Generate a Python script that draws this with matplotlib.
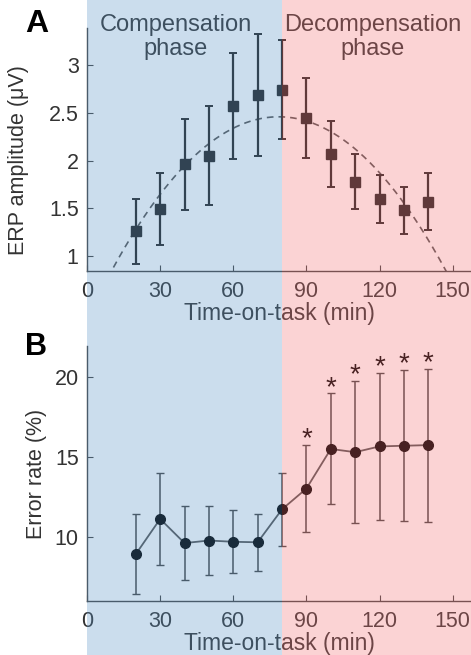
import numpy as np
import matplotlib
matplotlib.use('Agg')
import matplotlib.pyplot as plt

plt.rcParams['font.family'] = ['Liberation Sans', 'DejaVu Sans']

# Time-on-task blocks (min)
time_min = [20, 30, 40, 50, 60, 70, 80, 90, 100, 110, 120, 130, 140]

# Panel A: ERP amplitude (uV) and error bars
erp_amp = [1.26, 1.49, 1.96, 2.05, 2.57, 2.69, 2.745, 2.45, 2.07, 1.78, 1.60, 1.48, 1.57]
erp_err = [0.34, 0.375, 0.48, 0.52, 0.555, 0.64, 0.52, 0.42, 0.35, 0.29, 0.25, 0.245, 0.30]

# Panel B: error rate (%) and error bars
err_rate = [8.96, 11.15, 9.65, 9.81, 9.73, 9.70, 11.75, 13.04, 15.5, 15.3, 15.66, 15.70, 15.74]
err_rate_sd = [2.48, 2.86, 2.3, 2.15, 1.97, 1.77, 2.27, 2.7, 3.45, 4.43, 4.55, 4.7, 4.75]
signif = [False, False, False, False, False, False, False, True, True, True, True, True, True]

phase_split = 80
xticks = [0, 30, 60, 90, 120, 150]
xmax = 157.5

fig = plt.figure(figsize=(4.71, 6.55), dpi=100)

left = 87 / 471
axA = fig.add_axes([left, 1 - 271 / 655, 1 - left, (271 - 28) / 655])
axB = fig.add_axes([left, 1 - 601 / 655, 1 - left, (601 - 346) / 655])

ink = '#222222'
for ax in (axA, axB):
    ax.set_xlim(0, xmax)
    ax.set_xticks(xticks)
    ax.spines['top'].set_visible(False)
    ax.spines['right'].set_visible(False)
    for s in ('left', 'bottom'):
        ax.spines[s].set_color('#444444')
        ax.spines[s].set_linewidth(1.0)
    ax.tick_params(direction='in', length=4, width=0.8, colors='#444444',
                   labelcolor='#333333', labelsize=15.5)
    ax.tick_params(axis='x', pad=7)
    ax.tick_params(axis='y', pad=6)
    ax.patch.set_alpha(0)
    ax.set_xlabel('Time-on-task (min)', fontsize=16.5, color='#333333', labelpad=0)

# Panel A
axA.errorbar(time_min, erp_amp, yerr=erp_err, fmt='s', color=ink, ms=6.5,
             elinewidth=1.6, capsize=3, capthick=1.4, zorder=3)
coef = np.polyfit(time_min, erp_amp, 2)
xs = np.linspace(0, xmax, 300)
axA.plot(xs, np.polyval(coef, xs), '--', color='#555555', lw=1.2, dashes=(4, 3), zorder=2)
axA.set_ylim(0.843, 3.39)
axA.set_yticks([1, 1.5, 2, 2.5, 3])
axA.set_yticklabels(['1', '1.5', '2', '2.5', '3'])
axA.set_ylabel('ERP amplitude (μV)', fontsize=15.5, color='#333333')
axA.yaxis.set_label_coords((29 - 87) / 384, 0.457)

fig.text(left + 36.3 / xmax * (1 - left), 1 - 14 / 655, 'Compensation\nphase',
         ha='center', va='top', fontsize=17, color='#333333', linespacing=1.12)
fig.text(left + 117 / xmax * (1 - left), 1 - 14 / 655, 'Decompensation\nphase',
         ha='center', va='top', fontsize=17, color='#333333', linespacing=1.12)

# Panel B
axB.plot(time_min, err_rate, '-', color='#555555', lw=1.3, zorder=2)
axB.errorbar(time_min, err_rate, yerr=err_rate_sd, fmt='none', ecolor='#444444',
             elinewidth=1.1, capsize=3, capthick=1.0, zorder=2)
axB.plot(time_min, err_rate, 'o', color='black', ms=7, zorder=3)
for t, v, e, s in zip(time_min, err_rate, err_rate_sd, signif):
    if s:
        axB.text(t, v + e - 0.08, '*', ha='center', va='baseline', fontsize=20,
                 color='black')
axB.set_ylim(6.05, 21.9)
axB.set_yticks([10, 15, 20])
axB.set_ylabel('Error rate (%)', fontsize=15.5, color='#333333')
axB.yaxis.set_label_coords((47 - 87) / 384, 0.5)

fig.text(25 / 471, 1 - 32 / 655, 'A', fontsize=23, fontweight='bold', color='black')
fig.text(25 / 471, 1 - 355 / 655, 'B', fontsize=22, fontweight='bold', color='black')

# translucent phase shading drawn over everything, as in the original
ov = fig.add_axes([0, 0, 1, 1], zorder=10)
ov.set_axis_off()
ov.patch.set_alpha(0)
ov.set_xlim(-left / (1 - left) * xmax, xmax)
ov.set_ylim(0, 1)
ov.axvspan(0, phase_split, color='#5591c6', alpha=0.3, lw=0)
ov.axvspan(phase_split, xmax, color='#f27073', alpha=0.3, lw=0)

fig.savefig('out.png', dpi=100)
